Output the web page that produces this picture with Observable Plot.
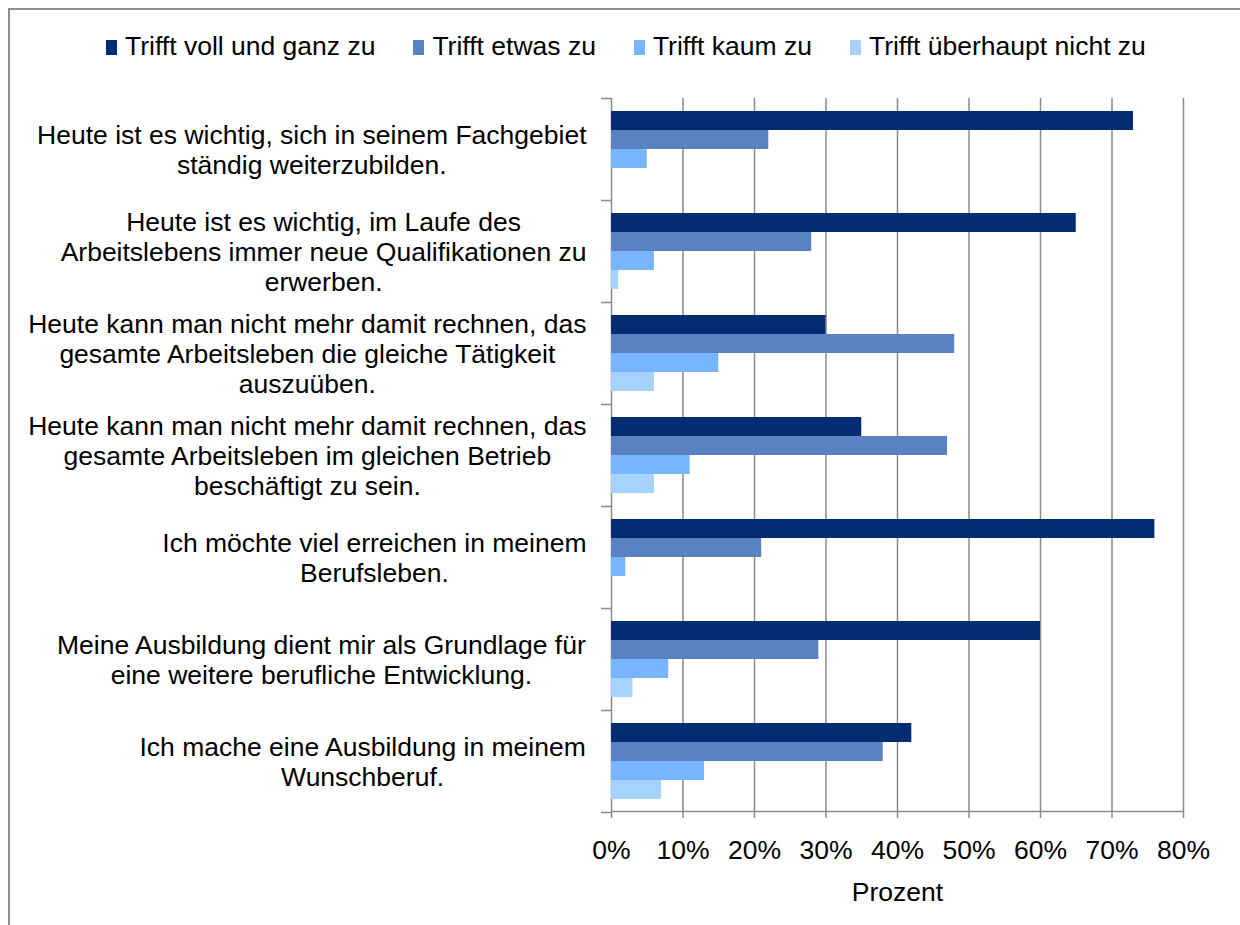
<!DOCTYPE html>
<html><head><meta charset="utf-8">
<script src="https://cdn.jsdelivr.net/npm/d3@7"></script>
<script src="https://cdn.jsdelivr.net/npm/@observablehq/plot@0.6"></script>
<style>
html,body{margin:0;padding:0;background:#fff;}
#page{position:relative;width:1240px;height:925px;overflow:hidden;font-family:"Liberation Sans",Arial,sans-serif;}
#border{position:absolute;left:8px;top:8px;width:1300px;height:1000px;border-top:2px solid #8e8e8e;border-left:2px solid #8e8e8e;}
#legend{position:absolute;left:106px;top:31px;font-size:26.5px;line-height:30px;white-space:nowrap;color:#000;}
.item{display:inline-block;margin-right:38px;}
.sw{display:inline-block;width:11px;height:15px;margin-right:8px;vertical-align:baseline;}
#chart{position:absolute;left:0;top:0;}
</style></head><body>
<div id="page"><div id="border"></div><div id="chart"></div><div id="legend"></div></div>
<script>
// ---- data ----
const categories = [
  "Heute ist es wichtig, sich in seinem Fachgebiet\nständig weiterzubilden.",
  "Heute ist es wichtig, im Laufe des\nArbeitslebens immer neue Qualifikationen zu\nerwerben.",
  "Heute kann man nicht mehr damit rechnen, das\ngesamte Arbeitsleben die gleiche Tätigkeit\nauszuüben.",
  "Heute kann man nicht mehr damit rechnen, das\ngesamte Arbeitsleben im gleichen Betrieb\nbeschäftigt zu sein.",
  "Ich möchte viel erreichen in meinem\nBerufsleben.",
  "Meine Ausbildung dient mir als Grundlage für\neine weitere berufliche Entwicklung.",
  "Ich mache eine Ausbildung in meinem\nWunschberuf."
];
const series = ["Trifft voll und ganz zu", "Trifft etwas zu", "Trifft kaum zu", "Trifft überhaupt nicht zu"];
const colors = ["#022D73", "#5882C1", "#79B5FE", "#A6D2FF"];
const vollUndGanz = [73, 65, 30, 35, 76, 60, 42];
const etwas       = [22, 28, 48, 47, 21, 29, 38];
const kaum        = [5, 6, 15, 11, 2, 8, 13];
const ueberhauptNicht = [0, 1, 6, 6, 0, 3, 7];
const xTicks = [0, 10, 20, 30, 40, 50, 60, 70, 80];
const xLabel = "Prozent";

// ---- derived ----
const values = [vollUndGanz, etwas, kaum, ueberhauptNicht];
const rows = categories.flatMap((c, i) => series.map((s, j) => ({cat: c, series: s, value: values[j][i]})));

const W = 1240, H = 925, mt = 98, mb = 113, ml = 611, mr = 57;
const FS = 26.5;
const FONT = '"Liberation Sans", Arial, sans-serif';
const GRID = "#8a8a8a";
const step = (H - mt - mb) / categories.length;
const padOuter = 0.6;
const sub = step / (series.length + 2 * padOuter);

const ctx = document.createElement("canvas").getContext("2d");
ctx.font = `${FS}px "Liberation Sans"`;
const labelGap = 25;

const labelMarks = categories.map(c => {
  const maxW = d3.max(c.split("\n"), l => ctx.measureText(l).width);
  return Plot.text([c], {
    fy: d => d, text: d => d, frameAnchor: "left", textAnchor: "middle",
    lineAnchor: "middle", lineHeight: 1.13, dx: -(labelGap + maxW / 2),
    fontSize: FS, fill: "#000"
  });
});

const chart = Plot.plot({
  width: W, height: H,
  marginTop: mt, marginBottom: mb, marginLeft: ml, marginRight: mr,
  style: {fontFamily: FONT, fontSize: FS + "px", background: "transparent", color: "#000", overflow: "visible"},
  x: {domain: [xTicks[0], xTicks[xTicks.length - 1]], axis: null},
  y: {domain: series, paddingInner: 0, paddingOuter: padOuter, axis: null},
  fy: {domain: categories, padding: 0, axis: null},
  color: {domain: series, range: colors},
  marks: [
    Plot.ruleX(xTicks, {stroke: GRID, strokeWidth: 1.5}),
    Plot.barX(rows, {fy: "cat", y: "series", x: "value", fill: "series"}),
    Plot.ruleY([categories[categories.length - 1]], {fy: d => d, y: () => series[series.length - 1], dy: sub * (0.5 + padOuter), stroke: GRID, strokeWidth: 1.5}),
    Plot.axisFy({anchor: "left", tickSize: 10, tickFormat: () => "", dy: -step / 2, stroke: GRID, strokeWidth: 1.5, label: null}),
    Plot.axisFy({anchor: "left", ticks: [categories[categories.length - 1]], tickSize: 10, tickFormat: () => "", dy: step / 2, stroke: GRID, strokeWidth: 1.5, label: null}),
    Plot.axisX({ticks: xTicks, tickSize: 6, tickPadding: 22, tickFormat: d => d + "%", fontSize: FS, stroke: GRID, strokeWidth: 1.5, fill: "#000",
      label: xLabel, labelAnchor: "center", labelArrow: "none", labelOffset: 88}),
    ...labelMarks
  ]
});
document.getElementById("chart").appendChild(chart);

// ---- legend ----
const legend = d3.select("#legend");
series.forEach((s, i) => {
  const it = legend.append("span").attr("class", "item");
  it.append("span").attr("class", "sw").style("background", colors[i]);
  it.append("span").text(s);
});
</script>
</body></html>
